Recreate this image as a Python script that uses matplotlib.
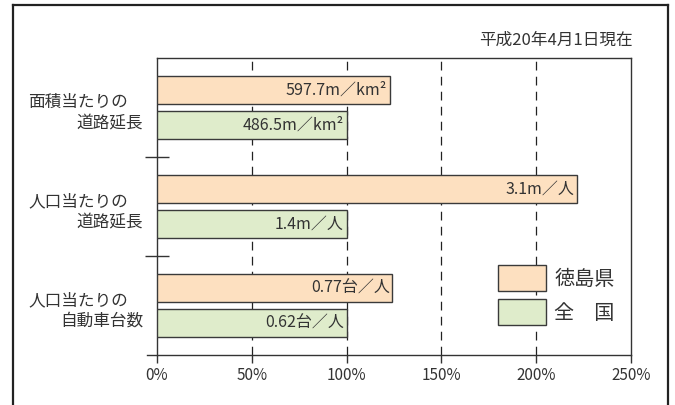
import matplotlib
matplotlib.use("Agg")
import matplotlib.pyplot as plt
from matplotlib.lines import Line2D
from matplotlib.patches import Patch
import matplotlib.transforms as mtransforms

plt.rcParams['font.family'] = ['Noto Sans CJK JP', 'DejaVu Sans']

# per-unit values (Tokushima vs. national)
categories = [("面積当たりの", "道路延長"),
              ("人口当たりの", "道路延長"),
              ("人口当たりの", "自動車台数")]
pref_values = [597.7, 3.1, 0.77]
nat_values = [486.5, 1.4, 0.62]
pref_labels = ["597.7m／km²", "3.1m／人", "0.77台／人"]
nat_labels = ["486.5m／km²", "1.4m／人", "0.62台／人"]
series_names = ["徳島県", "全　国"]
xticks = [0, 50, 100, 150, 200, 250]
note = "平成20年4月1日現在"

pref_color = '#fde0c0'
nat_color = '#dfeccb'
edge = '#3a3a3a'

# ratio to national average, %
pref_pct = [p / n * 100 for p, n in zip(pref_values, nat_values)]
nat_pct = [100.0 for _ in nat_values]

fig = plt.figure(figsize=(6.75, 4.05), dpi=100)
W, H = 675, 405
ax = fig.add_axes([157 / W, 1 - 355 / H, (631 - 157) / W, (355 - 58) / H])

ypos = list(range(len(categories)))
off, bh = 0.18, 0.285
ax.barh([y - off for y in ypos], pref_pct, height=bh, color=pref_color,
        edgecolor=edge, linewidth=1.0, zorder=3, label=series_names[0])
ax.barh([y + off for y in ypos], nat_pct, height=bh, color=nat_color,
        edgecolor=edge, linewidth=1.0, zorder=3, label=series_names[1])

for y, v, t in zip(ypos, pref_pct, pref_labels):
    ax.text(v - 1.5, y - off, t, ha='right', va='center', fontsize=11.5,
            color='#333333', zorder=4)
for y, v, t in zip(ypos, nat_pct, nat_labels):
    ax.text(v - 1.5, y + off, t, ha='right', va='center', fontsize=11.5,
            color='#333333', zorder=4)

ax.set_xlim(0, 250)
ax.set_ylim(len(categories) - 0.5, -0.5)
ax.set_xticks(xticks)
ax.set_xticklabels([f"{t}%" for t in xticks], fontsize=11, color='#333333')
ax.tick_params(axis='x', direction='out', length=6, width=1.0, pad=3,
               color='#333333')
ax.set_yticks([y + 0.5 for y in ypos[:-1]])
ax.set_yticklabels([])
ax.tick_params(axis='y', direction='inout', length=17, width=1.0,
               color='#333333')

for x in xticks[1:-1]:
    ax.axvline(x, color='#222222', linewidth=0.9, dashes=(7, 5), zorder=1)

for s in ax.spines.values():
    s.set_linewidth(1.0)
    s.set_color('#333333')
ax.spines['bottom'].set_visible(False)
# x axis line runs a little past the origin
ax.add_line(Line2D([-10 / 474, 1], [0, 0], transform=ax.transAxes,
                   color='#333333', linewidth=1.0, clip_on=False, zorder=5))

# two-line category names, first line flush left, second flush right
trans = mtransforms.blended_transform_factory(fig.transFigure, ax.transData)
for y, (l1, l2) in zip(ypos, categories):
    fig.text(28 / W, y - 0.05, l1, ha='left', va='center', fontsize=12,
             color='#333333', transform=trans)
    fig.text(143 / W, y + 0.155, l2, ha='right', va='center', fontsize=12,
             color='#333333', transform=trans)

fig.text(633 / W, 1 - 40 / H, note, ha='right', va='center', fontsize=12,
         color='#333333')

handles = [Patch(facecolor=pref_color, edgecolor=edge, linewidth=1.0),
           Patch(facecolor=nat_color, edgecolor=edge, linewidth=1.0)]
leg = fig.legend(handles, series_names, loc='upper left',
                 bbox_to_anchor=(498 / W, 1 - 265 / H), frameon=False,
                 fontsize=14.5, handlelength=2.4, handleheight=1.6,
                 handletextpad=0.4, labelspacing=0.42, borderpad=0,
                 borderaxespad=0)
for t in leg.get_texts():
    t.set_color('#333333')

# outer frame, open at the bottom
frame_kw = dict(color='#222222', linewidth=1.6, transform=fig.transFigure)
fig.add_artist(Line2D([13 / W, 13 / W], [0, 1 - 5 / H], **frame_kw))
fig.add_artist(Line2D([13 / W, 668 / W], [1 - 5 / H, 1 - 5 / H], **frame_kw))
fig.add_artist(Line2D([668 / W, 668 / W], [0, 1 - 5 / H], **frame_kw))

fig.savefig("out.png", dpi=100)
